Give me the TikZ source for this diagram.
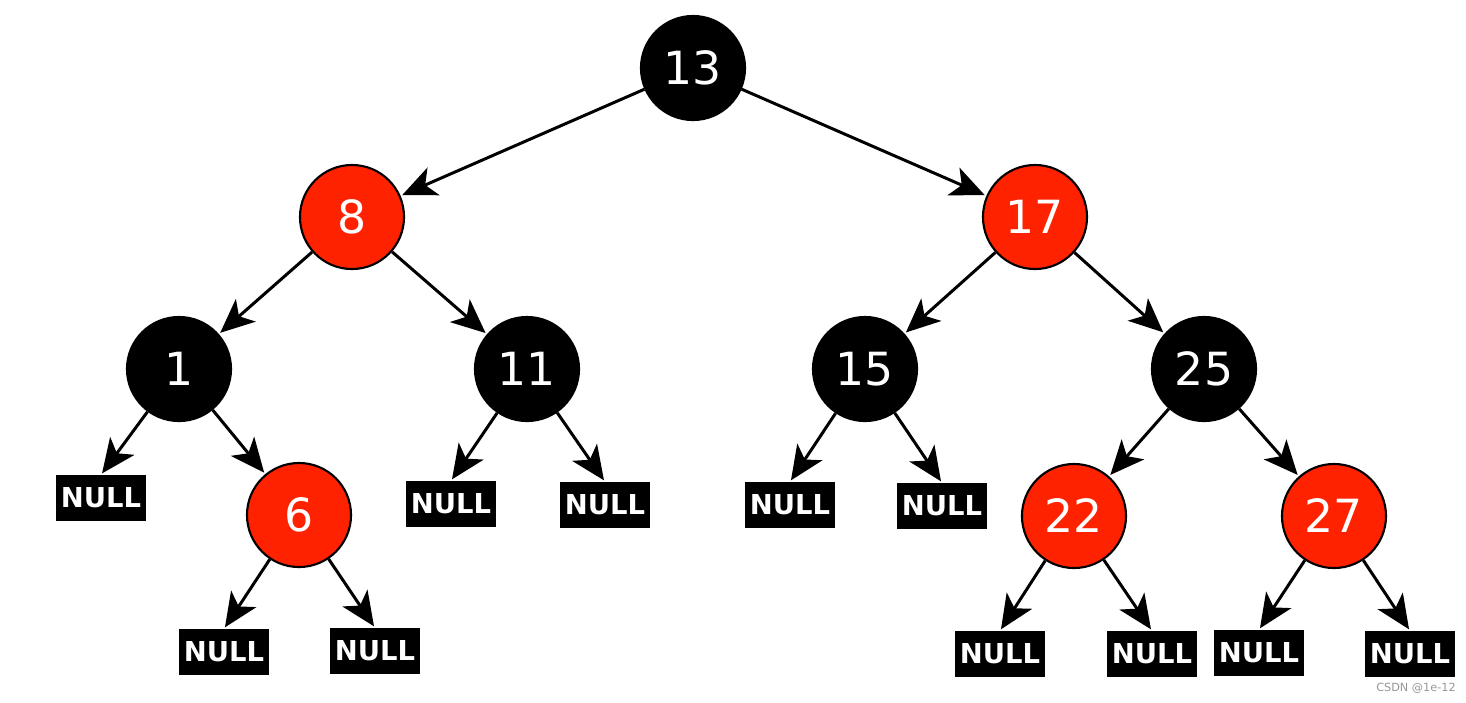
\documentclass[tikz,border=0pt]{standalone}
\usepackage{fontspec}
\setmainfont{DejaVu Sans}
\usetikzlibrary{arrows.meta}
\definecolor{rbred}{RGB}{255,34,0}
\definecolor{markgray}{RGB}{150,150,150}
\tikzset{
    key/.style={draw, circle, minimum size=1.04cm, inner sep=0pt, line width=0.6pt, text=white, font=\fontsize{13}{14}\selectfont},
    black-key/.style={key, fill=black},
    red-key/.style={key, fill=rbred},
    leaf/.style={draw, fill=black, rectangle, minimum width=0.88cm, minimum height=0.45cm, inner sep=0pt, text=white, font=\fontsize{7.8}{8}\selectfont\bfseries},
    link/.style={-{Stealth[length=0.34cm, width=0.3cm, inset=0.09cm]}, line width=0.85pt, shorten >=0.5pt}
}

\begin{document}
\begin{tikzpicture}[x=0.01cm, y=-0.01cm]
      \useasboundingbox (0,0) rectangle (1466,702);

      % keys
      \path
          (693,68) node[black-key] (k13) {13}
          (352,217) node[red-key] (k8) {8}
          (1035,217) node[red-key] (k17) {17}
          (179,369) node[black-key] (k1) {1}
          (527,369) node[black-key] (k11) {11}
          (865,369) node[black-key] (k15) {15}
          (1204,369) node[black-key] (k25) {25}
          (299,515) node[red-key] (k6) {6}
          (1074,516) node[red-key] (k22) {22}
          (1334,516) node[red-key] (k27) {27};

      % leaves
      \path
          (101,498) node[leaf] (k1-left) {NULL}
          (451,504) node[leaf] (k11-left) {NULL}
          (605,505) node[leaf] (k11-right) {NULL}
          (790,505) node[leaf] (k15-left) {NULL}
          (942,506) node[leaf] (k15-right) {NULL}
          (224,652) node[leaf] (k6-left) {NULL}
          (375,651) node[leaf] (k6-right) {NULL}
          (1000,654) node[leaf] (k22-left) {NULL}
          (1152,654) node[leaf] (k22-right) {NULL}
          (1259,653) node[leaf] (k27-left) {NULL}
          (1410,654) node[leaf] (k27-right) {NULL};

      \draw[link] (k13) -- (k8);
      \draw[link] (k13) -- (k17);
      \draw[link] (k8) -- (k1);
      \draw[link] (k8) -- (k11);
      \draw[link] (k17) -- (k15);
      \draw[link] (k17) -- (k25);
      \draw[link] (k1) -- (k1-left.north);
      \draw[link] (k1) -- (k6);
      \draw[link] (k11) -- (k11-left.north);
      \draw[link] (k11) -- (k11-right.north);
      \draw[link] (k15) -- (k15-left.north);
      \draw[link] (k15) -- (k15-right.north);
      \draw[link] (k25) -- (k22);
      \draw[link] (k25) -- (k27);
      \draw[link] (k6) -- (k6-left.north);
      \draw[link] (k6) -- (k6-right.north);
      \draw[link] (k22) -- (k22-left.north);
      \draw[link] (k22) -- (k22-right.north);
      \draw[link] (k27) -- (k27-left.north);
      \draw[link] (k27) -- (k27-right.north);

      \path (1416,688) node[text=markgray, font=\fontsize{3.2}{4}\selectfont] (watermark) {CSDN @1e-12};
\end{tikzpicture}
\end{document}
